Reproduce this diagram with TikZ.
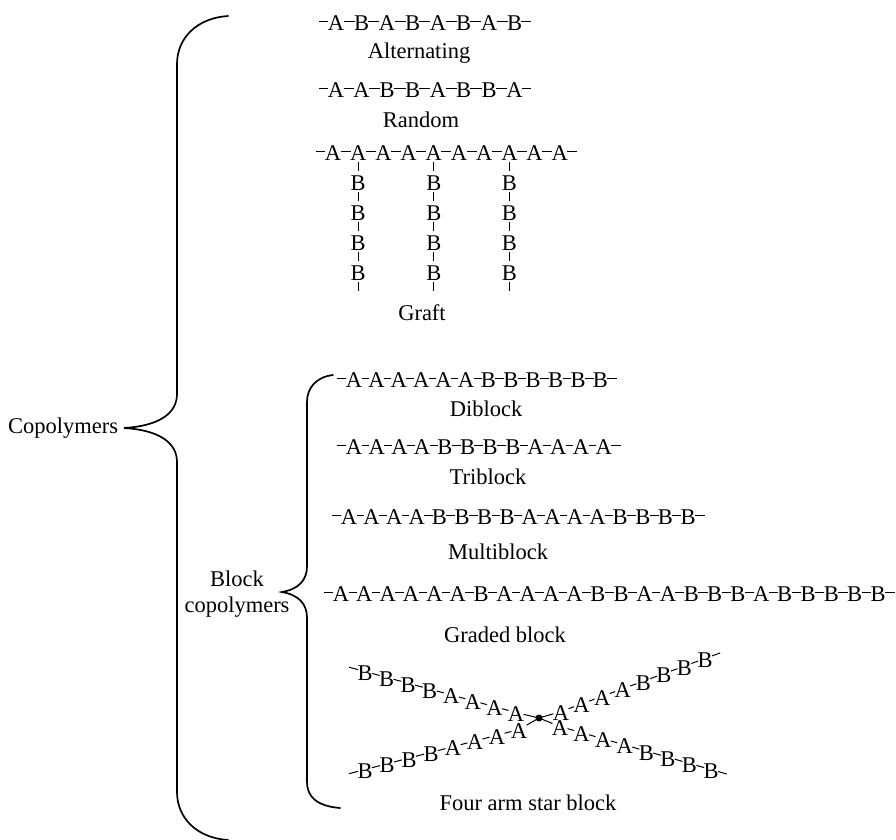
\documentclass[tikz,border=0pt]{standalone}
\usepackage{fontspec}
\setmainfont{Liberation Serif}
\usetikzlibrary{calc}

\tikzset{
  atom/.style={inner xsep=0pt, inner ysep=1.5pt, text height=18pt, text depth=0pt},
  bond/.style={line width=1pt, shorten <=-0.8pt, shorten >=-0.8pt},
  vbond/.style={line width=1pt},
  brace/.style={line width=1.7pt, line cap=round},
  caption/.style={inner sep=0pt},
}

% horizontal chain: name, x of first atom, y, step, atoms
\newcommand\hchain[5]{%
  \foreach \l [count=\i] in {#5} {%
    \node[atom] (#1-\i) at ({#2+(\i-1)*#4},#3) {\l};
    \xdef\nlast{\i}}%
  \foreach \i [remember=\i as \p (initially 1)] in {2,...,\nlast} {%
    \draw[bond] (#1-\p) -- (#1-\i);}%
  \coordinate (#1-w) at ({#2-16},#3);
  \coordinate (#1-e) at ({#2+(\nlast-1)*#4+16},#3);
  \draw[bond] (#1-1) -- (#1-w);
  \draw[bond] (#1-\nlast) -- (#1-e);
}

% star arm: name, first atom x, y, last atom x, y
\newcommand\starm[5]{%
  \foreach \l [count=\i] in {A,A,A,A,B,B,B,B} {%
    \node[atom] (#1-\i) at ({#2+(\i-1)*(#4-#2)/7},{#3+(\i-1)*(#5-#3)/7}) {\l};}%
  \foreach \i [remember=\i as \p (initially 1)] in {2,...,8} {%
    \draw[bond] (#1-\p) -- (#1-\i);}%
  \coordinate (#1-end) at ({#2+7.7*(#4-#2)/7},{#3+7.7*(#5-#3)/7});
  \draw[bond] (#1-8) -- (#1-end);
  \draw[bond] (core) -- (#1-1);
}

\begin{document}
\begin{tikzpicture}[x=1pt, y=-1pt, font=\fontsize{22.5}{26}\selectfont]
\useasboundingbox (0,0) rectangle (896,839);

% main brace
\draw[brace] (228,16) .. controls (197,18) and (177,38) .. (177,64)
  -- (177,394) .. controls (177,414) and (158,426) .. (124,428)
  .. controls (158,430) and (177,442) .. (177,462)
  -- (177,792) .. controls (177,818) and (197,838) .. (228,840);
\node[caption] (cop) at (63,428) {Copolymers};

% block copolymer brace
\draw[brace] (333,375) .. controls (316,377) and (307,388) .. (307,402)
  -- (307,566) .. controls (307,580) and (299,589) .. (282,592)
  .. controls (299,595) and (307,604) .. (307,618)
  -- (307,782) .. controls (307,796) and (316,806) .. (340,808);
\node[caption, align=center] (blk) at (237,594) {Block\\copolymers};

% alternating
\hchain{alt}{336}{21.5}{25.5}{A,B,A,B,A,B,A,B}
\node[caption] (altlbl) at (419,53) {Alternating};

% random
\hchain{rnd}{336}{88.5}{25.5}{A,A,B,B,A,B,B,A}
\node[caption] (rndlbl) at (421,120) {Random};

% graft
\hchain{gr}{333}{151.5}{25.2}{A,A,A,A,A,A,A,A,A,A}
\foreach \k in {2,5,8} {
  \foreach \j [count=\n] in {181.5,211.5,241.5,271.5} {
    \node[atom] (gb\k-\n) at (gr-\k |- 0,\j) {B};
  }
  \draw[vbond] (gr-\k) -- (gb\k-1);
  \draw[vbond] (gb\k-1) -- (gb\k-2);
  \draw[vbond] (gb\k-2) -- (gb\k-3);
  \draw[vbond] (gb\k-3) -- (gb\k-4);
  \coordinate (gt\k) at (gr-\k |- 0,291);
  \draw[vbond] (gb\k-4) -- (gt\k);
}
\node[caption] (grlbl) at (422,313) {Graft};

% diblock
\hchain{di}{354}{378.5}{22.4}{A,A,A,A,A,A,B,B,B,B,B,B}
\node[caption] (dilbl) at (486,409) {Diblock};

% triblock
\hchain{tri}{354}{445.5}{22.7}{A,A,A,A,B,B,B,B,A,A,A,A}
\node[caption] (trilbl) at (488,477) {Triblock};

% multiblock
\hchain{mul}{349}{515.5}{22.6}{A,A,A,A,B,B,B,B,A,A,A,A,B,B,B,B}
\node[caption] (mullbl) at (498,552) {Multiblock};

% graded block
\hchain{grd}{341}{592.5}{23.35}{A,A,A,A,A,A,B,A,A,A,A,B,B,A,A,B,B,B,A,B,B,B,B,B}
\node[caption] (grdlbl) at (505,635) {Graded block};

% four arm star
\node[circle, fill, inner sep=0pt, minimum size=7pt] (core) at (539,718) {};
\starm{ul}{516}{712.5}{365}{671.5}
\starm{ur}{561}{711.5}{705}{658.5}
\starm{ll}{519}{729.5}{365}{769.5}
\starm{lr}{560}{726.5}{711}{769.5}
\node[caption] (starlbl) at (528,803) {Four arm star block};
\end{tikzpicture}
\end{document}
